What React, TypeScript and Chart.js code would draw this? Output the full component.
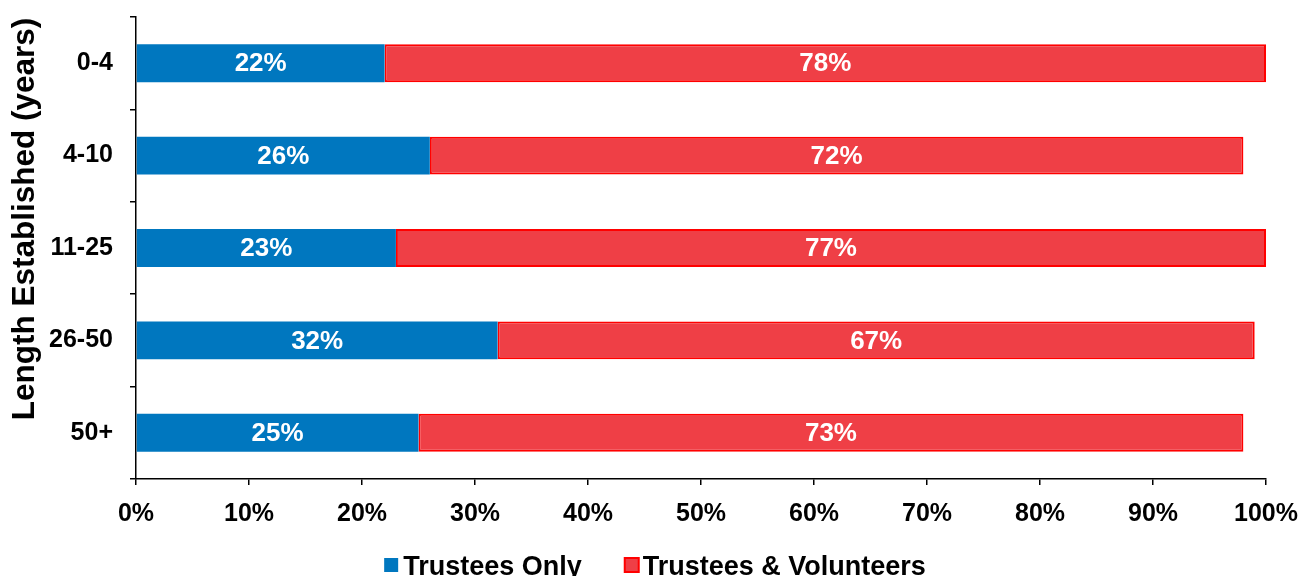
import React, { useEffect, useRef } from "react";
import { Chart, registerables } from "chart.js";

Chart.register(...registerables);

const categories = ["0-4", "4-10", "11-25", "26-50", "50+"];
const trusteesOnly = [22, 26, 23, 32, 25];
const trusteesVolunteers = [78, 72, 77, 67, 73];
const xTicks = [0, 10, 20, 30, 40, 50, 60, 70, 80, 90, 100];
const seriesNames = ["Trustees Only", "Trustees & Volunteers"];
const yTitle = "Length Established (years)";

const FONT = "'Liberation Sans', Arial, sans-serif";
const BLUE = "#0077BF";
const RED_FILL = "#EF3F46";
const RED_LINE = "#FF0000";

const labelPlugin = {
  id: "segLabels",
  afterDatasetsDraw(chart: any) {
    const ctx = chart.ctx;
    ctx.save();
    ctx.fillStyle = "#ffffff";
    ctx.font = `bold 26px ${FONT}`;
    ctx.textAlign = "center";
    ctx.textBaseline = "middle";
    chart.data.datasets.forEach((ds: any, i: number) => {
      const meta = chart.getDatasetMeta(i);
      meta.data.forEach((el: any, j: number) => {
        const x = (el.x + el.base) / 2;
        ctx.fillText(`${ds.data[j]}%`, x, el.y + 1);
      });
    });
    ctx.restore();
  },
};

const titlePlugin = {
  id: "yTitle",
  afterDraw(chart: any) {
    const ctx = chart.ctx;
    ctx.save();
    ctx.fillStyle = "#000";
    ctx.font = `bold 31.5px ${FONT}`;
    ctx.textAlign = "center";
    ctx.textBaseline = "middle";
    ctx.translate(25, 219);
    ctx.rotate(-Math.PI / 2);
    ctx.fillText(yTitle, 0, 0);
    ctx.restore();
  },
};

const legendPlugin = {
  id: "customLegend",
  afterDraw(chart: any) {
    const ctx = chart.ctx;
    ctx.save();
    ctx.font = `bold 27px ${FONT}`;
    ctx.textBaseline = "alphabetic";
    ctx.textAlign = "left";
    const box = 14;
    const gapText = 5;
    const gapItem = 42;
    const widths = chart.data.datasets.map((ds: any) => ctx.measureText(ds.label).width);
    const total = widths.reduce((a: number, w: number) => a + box + gapText + w, 0) + gapItem * (widths.length - 1);
    let x = 655 - total / 2;
    const boxTop = 558;
    const baseline = 575;
    chart.data.datasets.forEach((ds: any, i: number) => {
      if (ds.borderWidth) {
        ctx.fillStyle = ds.backgroundColor;
        ctx.fillRect(x + 1, boxTop, box, box);
        ctx.strokeStyle = ds.borderColor;
        ctx.lineWidth = 2;
        ctx.strokeRect(x + 1, boxTop, box, box);
      } else {
        ctx.fillStyle = ds.backgroundColor;
        ctx.fillRect(x, boxTop, box, box);
      }
      ctx.fillStyle = "#000";
      ctx.fillText(ds.label, x + box + gapText, baseline);
      x += box + gapText + widths[i] + gapItem;
    });
    ctx.restore();
  },
};

export default function App() {
  const ref = useRef<HTMLCanvasElement>(null);
  useEffect(() => {
    document.body.style.margin = "0";
    const chart = new Chart(ref.current!, {
      type: "bar",
      data: {
        labels: categories,
        datasets: [
          {
            label: seriesNames[0],
            data: trusteesOnly,
            backgroundColor: BLUE,
            borderWidth: 0,
            barPercentage: 0.41,
            categoryPercentage: 1,
          },
          {
            label: seriesNames[1],
            data: trusteesVolunteers,
            backgroundColor: RED_FILL,
            borderColor: RED_LINE,
            borderWidth: 2,
            borderSkipped: false,
            barPercentage: 0.41,
            categoryPercentage: 1,
          },
        ],
      },
      plugins: [labelPlugin, titlePlugin, legendPlugin],
      options: {
        indexAxis: "y",
        responsive: false,
        animation: false,
        layout: { padding: { top: 17, right: 36, left: 0, bottom: 41 } },
        plugins: {
          tooltip: { enabled: false },
          legend: { display: false },
        },
        scales: {
          x: {
            stacked: true,
            min: 0,
            max: 100,
            afterBuildTicks: (axis: any) => {
              axis.ticks = xTicks.map((v) => ({ value: v }));
            },
            afterFit: (scale: any) => {
              scale.height = 56;
              scale.paddingLeft = 0;
              scale.paddingRight = 0;
            },
            ticks: {
              color: "#000",
              font: { family: FONT, size: 25, weight: "bold" },
              callback: (v: any) => `${v}%`,
              padding: 14,
              maxRotation: 0,
            },
            grid: {
              drawOnChartArea: false,
              drawTicks: true,
              tickLength: 6,
              color: "#000",
              lineWidth: 1.5,
            },
            border: { display: true, color: "#000", width: 1.5 },
          },
          y: {
            stacked: true,
            afterFit: (scale: any) => {
              scale.width = 136;
              scale.paddingTop = 0;
              scale.paddingBottom = 0;
            },
            ticks: {
              color: "#000",
              font: { family: FONT, size: 25, weight: "bold" },
              padding: 17,
            },
            grid: {
              offset: true,
              drawOnChartArea: false,
              drawTicks: true,
              tickLength: 6,
              color: "#000",
              lineWidth: 1.5,
            },
            border: { display: true, color: "#000", width: 1.5 },
          },
        },
      },
    } as any);
    return () => chart.destroy();
  }, []);
  return <canvas ref={ref} width={1302} height={576} style={{ display: "block" }} />;
}
